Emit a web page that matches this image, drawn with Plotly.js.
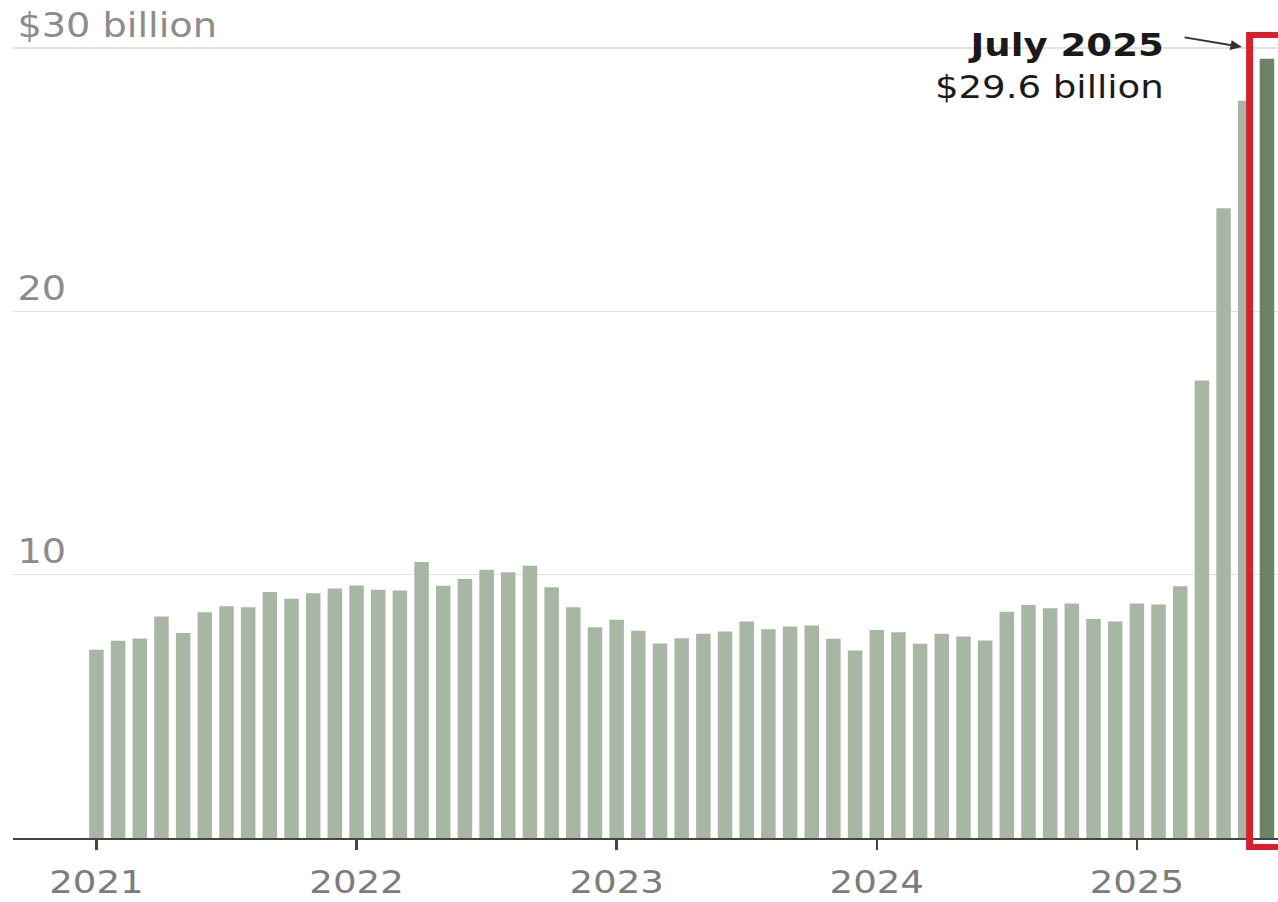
<!DOCTYPE html>
<html>
<head>
<meta charset="utf-8">
<script src="https://cdn.plot.ly/plotly-3.0.1.min.js"></script>
<style>
  html, body { margin: 0; padding: 0; background: #ffffff; overflow: hidden; }
  #wrap { width: 1278px; height: 902px; overflow: hidden; }
  #chart { width: 1102px; height: 902px; transform: scaleX(1.1597); transform-origin: 0 0; }
</style>
</head>
<body>
<div id="wrap"><div id="chart"></div></div>
<script>
// Monthly values, billions of dollars
const months = [
  '2021-01','2021-02','2021-03','2021-04','2021-05','2021-06','2021-07','2021-08','2021-09','2021-10','2021-11','2021-12',
  '2022-01','2022-02','2022-03','2022-04','2022-05','2022-06','2022-07','2022-08','2022-09','2022-10','2022-11','2022-12',
  '2023-01','2023-02','2023-03','2023-04','2023-05','2023-06','2023-07','2023-08','2023-09','2023-10','2023-11','2023-12',
  '2024-01','2024-02','2024-03','2024-04','2024-05','2024-06','2024-07','2024-08','2024-09','2024-10','2024-11','2024-12',
  '2025-01','2025-02','2025-03','2025-04','2025-05','2025-06','2025-07'
];
const values = [
  7.15, 7.49, 7.58, 8.41, 7.79, 8.57, 8.80, 8.76, 9.34, 9.09, 9.30, 9.48,
  9.59, 9.43, 9.40, 10.48, 9.58, 9.84, 10.19, 10.09, 10.34, 9.52, 8.76, 8.00,
  8.29, 7.87, 7.39, 7.59, 7.76, 7.84, 8.22, 7.93, 8.03, 8.07, 7.57, 7.12,
  7.90, 7.81, 7.38, 7.76, 7.65, 7.50, 8.59, 8.85, 8.73, 8.91, 8.32, 8.22,
  8.91, 8.87, 9.56, 17.38, 23.92, 28.00, 29.60
];
const tickMonths = ['2021-01','2022-01','2023-01','2024-01','2025-01'];
const tickYears  = ['2021','2022','2023','2024','2025'];
const yTickVals  = [10, 20, 30];
const yTickText  = ['10', '20', '$30 billion'];
const highlightMonth = '2025-07';
const highlightLabel = 'July 2025';
const highlightValue = '$29.6 billion';

const LIGHT = '#a8b7a3';
const DARK = '#6b8466';
const colors = months.map(m => m === highlightMonth ? DARK : LIGHT);
const hiIdx = months.indexOf(highlightMonth);

const trace = {
  type: 'bar',
  x: months,
  y: values,
  marker: { color: colors, line: { width: 0 } },
  hoverinfo: 'x+y'
};

const layout = {
  width: 1102,
  height: 902,
  margin: { l: 11, r: 0, t: 6, b: 64 },
  paper_bgcolor: '#ffffff',
  plot_bgcolor: '#ffffff',
  showlegend: false,
  bargap: 0.33,
  font: { family: 'DejaVu Sans, sans-serif', color: '#888888' },
  xaxis: {
    type: 'category',
    categoryorder: 'array',
    categoryarray: months,
    range: [-3.86, 54.51],
    tickmode: 'array',
    tickvals: tickMonths,
    ticktext: tickYears,
    ticks: 'outside',
    ticklen: 10,
    tickwidth: 2,
    tickcolor: '#444444',
    showline: true,
    linecolor: '#444444',
    linewidth: 2,
    showgrid: false,
    zeroline: false,
    tickfont: { family: 'DejaVu Sans, sans-serif', size: 32, color: '#7c7c7c' },
    ticklabelstandoff: 5
  },
  yaxis: {
    range: [0, 31.6],
    tickmode: 'array',
    tickvals: yTickVals,
    ticktext: yTickText,
    ticks: '',
    showgrid: true,
    gridcolor: '#e2e2e2',
    gridwidth: 1.5,
    zeroline: false,
    showline: false,
    ticklabelposition: 'inside top',
    ticklabeloverflow: 'allow',
    ticklabelstandoff: 1,
    tickfont: { family: 'DejaVu Sans, sans-serif', size: 33, color: '#8c8c8c' }
  },
  shapes: [
    {
      type: 'rect',
      xref: 'x', yref: 'paper',
      x0: hiIdx - 0.8, x1: hiIdx + 4,
      y0: -0.0108, y1: 0.9651,
      line: { color: '#d9202a', width: 6 },
      fillcolor: 'rgba(0,0,0,0)',
      layer: 'above'
    }
  ],
  annotations: [
    {
      xref: 'x', yref: 'y',
      x: hiIdx - 4.65, y: 30.92,
      xanchor: 'right', yanchor: 'top',
      align: 'right',
      showarrow: false,
      text: '<b>' + highlightLabel + '</b><br>' + highlightValue,
      font: { family: 'DejaVu Sans, sans-serif', size: 32, color: '#1a1a1a' }
    },
    {
      xref: 'x', yref: 'y',
      x: hiIdx - 1.15, y: 30.04,
      ax: -51, ay: -10,
      axref: 'pixel', ayref: 'pixel',
      text: '',
      showarrow: true,
      arrowhead: 2,
      arrowsize: 1,
      arrowwidth: 2,
      arrowcolor: '#333333',
      standoff: 0
    }
  ]
};

Plotly.newPlot('chart', [trace], layout, { staticPlot: true, displayModeBar: false });
</script>
</body>
</html>
